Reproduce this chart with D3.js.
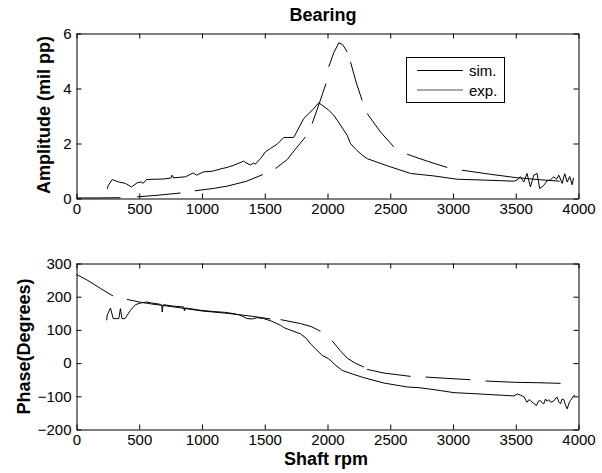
<!DOCTYPE html>
<html><head><meta charset="utf-8">
<script src="https://cdn.jsdelivr.net/npm/d3@7"></script>
<style>
body{margin:0;background:#fff;}
svg{display:block;font-family:"Liberation Sans",Arial,sans-serif;}
</style></head>
<body><svg id="c" width="602" height="473"></svg>
<script>
// ---- data ----
const xTicks = [0,500,1000,1500,2000,2500,3000,3500,4000];
const ampTicks = [0,2,4,6];
const phaseTicks = [-200,-100,0,100,200,300];
const legendLabels = ["sim.","exp."];

// simulation amplitude (null = break in the drawn line)
const simAmp = [[0,0.02],[175,0.02],[350,0.03],null,
 [483,0.06],[650,0.12],[829,0.2],null,
 [943,0.28],[1100,0.37],[1200,0.45],[1350,0.62],[1485,0.87],null,
 [1586,1.09],[1680,1.42],[1745,1.8],[1825,2.24],null,
 [1878,2.73],[1930,3.4],[1988,4.18],null,
 [2010,4.79],[2050,5.3],[2090,5.66],[2120,5.6],[2157,5.33],null,
 [2183,4.97],[2230,4.2],[2276,3.57],null,
 [2316,3.09],[2422,2.42],[2528,1.88],null,
 [2635,1.61],[2800,1.35],[2954,1.13],null,
 [3070,1.03],[3300,0.88],[3500,0.76],[3700,0.68],[3850,0.63]];

// experimental amplitude
const expAmp = [[245,0.35],[250,0.45],[284,0.69],[337,0.6],[390,0.55],[438,0.42],[483,0.57],[518,0.6],[531,0.55],[558,0.69],
 [696,0.71],[755,0.75],[762,0.85],[774,0.75],[869,0.79],[930,0.93],[956,0.85],[1014,0.97],[1080,0.99],[1160,1.09],
 [1200,1.13],[1253,1.21],[1333,1.36],[1350,1.3],[1386,1.22],[1412,1.29],[1425,1.25],[1466,1.45],[1506,1.7],[1546,1.82],
 [1600,1.98],[1652,2.22],[1731,2.22],[1811,2.91],[1878,3.21],[1931,3.48],[1958,3.39],[2010,3.21],[2050,3.03],[2077,2.85],
 [2157,2.3],[2183,2.0],[2223,1.8],[2270,1.6],[2316,1.45],[2476,1.19],[2662,0.91],[2848,0.82],[3034,0.7],[3246,0.67],[3486,0.63],
 [3510,0.67],[3537,0.79],[3564,0.6],[3590,0.91],[3617,0.42],[3644,0.85],[3670,0.91],[3691,0.36],[3723,0.48],[3750,0.64],
 [3777,0.68],[3803,0.79],[3825,0.7],[3843,0.85],[3870,0.55],[3890,0.9],[3910,0.6],[3930,0.8],[3950,0.5],[3960,0.75]];

// simulation phase
const simPhase = [[0,267],[85,250],[191,225],[292,202],null,
 [402,192],[500,184],[600,178],[800,168],[1000,157],[1200,150],[1400,141],[1546,133],null,
 [1626,131],[1785,119],[1870,110],[1944,96],null,
 [2037,67],[2100,38],[2157,15],[2220,0],[2290,-12],null,
 [2316,-19],[2450,-30],[2662,-40],null,
 [2781,-42],[2950,-46],[3139,-50],null,
 [3259,-54],[3500,-58],[3670,-59],[3857,-61]];

// experimental phase
const expPhase = [[240,129],[245,145],[271,166],[292,134],[337,134],[350,164],[362,134],[386,134],[430,159],[470,176],
 [510,181],[563,184],[600,181],[669,177],[680,174],[683,154],[688,170],[695,176],[760,172],[855,169],[860,157],[870,166],
 [988,159],[1100,155],[1180,153],[1253,149],[1300,145],[1360,134],[1400,133],[1440,137],[1492,134],[1550,127],[1626,114],
 [1651,107],[1700,100],[1785,88],[1830,75],[1865,58],[1900,45],[1958,23],[2010,13],[2060,-5],[2117,-22],[2200,-33],
 [2290,-44],[2450,-60],[2636,-72],[2729,-74],[2850,-80],[3008,-89],[3167,-92],[3300,-95],[3400,-97],[3486,-99],[3513,-93],
 [3540,-97],[3564,-101],[3590,-118],[3605,-110],[3617,-113],[3640,-120],[3665,-128],[3680,-115],[3697,-113],[3712,-120],
 [3723,-123],[3737,-108],[3750,-115],[3763,-110],[3780,-118],[3803,-114],[3820,-105],[3830,-103],[3845,-118],[3856,-123],
 [3870,-108],[3883,-110],[3895,-125],[3910,-138],[3925,-120],[3936,-113],[3950,-105],[3962,-98],[3970,-97]];

// ---- drawing ----
const svg = d3.select("#c");
const X0 = 76.5, X1 = 578.5;
const x = d3.scaleLinear().domain([0,4000]).range([X0,X1]);
const yA = d3.scaleLinear().domain([0,6]).range([198.5,33.5]);
const yP = d3.scaleLinear().domain([-200,300]).range([429.5,263.5]);

function panel(y, yt){
  const [b,t] = y.range();
  const g = svg.append("g");
  const fmt = d3.format("d");
  g.append("g").attr("transform",`translate(0,${b})`)
   .call(d3.axisBottom(x).tickValues(xTicks).tickFormat(fmt).tickSizeInner(-5).tickSizeOuter(0).tickPadding(5));
  g.append("g").attr("transform",`translate(0,${t})`)
   .call(d3.axisTop(x).tickValues(xTicks).tickFormat("").tickSizeInner(-5).tickSizeOuter(0));
  g.append("g").attr("transform",`translate(${X0},0)`)
   .call(d3.axisLeft(y).tickValues(yt).tickFormat(fmt).tickSizeInner(-5).tickSizeOuter(0).tickPadding(5));
  g.append("g").attr("transform",`translate(${X1},0)`)
   .call(d3.axisRight(y).tickValues(yt).tickFormat("").tickSizeInner(-5).tickSizeOuter(0));
  g.selectAll("text").attr("font-size",15).attr("font-family","Liberation Sans, Arial, sans-serif").attr("fill","#000");
  g.selectAll("path.domain, line").attr("stroke","#000");
  return g;
}
panel(yA, ampTicks);
panel(yP, phaseTicks);

function drawLine(data, y){
  const ln = d3.line().defined(d=>d!==null).x(d=>x(d[0])).y(d=>y(d[1]));
  svg.append("path").datum(data).attr("d",ln).attr("fill","none")
    .attr("stroke","#000").attr("stroke-width",1).attr("stroke-linejoin","round");
}
drawLine(simAmp, yA);
drawLine(expAmp, yA);
drawLine(simPhase, yP);
drawLine(expPhase, yP);

// title and labels
svg.append("text").attr("x",323).attr("y",21).attr("text-anchor","middle")
  .attr("font-size",18).attr("font-weight","bold").text("Bearing");
svg.append("text").attr("transform","translate(49.5,115) rotate(-90)").attr("text-anchor","middle")
  .attr("font-size",18).attr("font-weight","bold").text("Amplitude (mil pp)");
svg.append("text").attr("transform","translate(29.5,346.5) rotate(-90)").attr("text-anchor","middle")
  .attr("font-size",18).attr("font-weight","bold").text("Phase(Degrees)");
svg.append("text").attr("x",326).attr("y",465).attr("text-anchor","middle")
  .attr("font-size",18).attr("font-weight","bold").text("Shaft rpm");

// legend
const lg = svg.append("g");
lg.append("rect").attr("x",406.5).attr("y",57.5).attr("width",98).attr("height",45)
  .attr("fill","#fff").attr("stroke","#000").attr("stroke-width",1);
const legColors = ["#000","#555"];
legendLabels.forEach((lab,i)=>{
  const yy = 70.5 + i*19.5;
  lg.append("line").attr("x1",417).attr("x2",463).attr("y1",yy).attr("y2",yy)
    .attr("stroke",legColors[i]).attr("stroke-width",1);
  lg.append("text").attr("x",469).attr("y",yy+5.5).attr("font-size",15).text(lab);
});
</script></body></html>
